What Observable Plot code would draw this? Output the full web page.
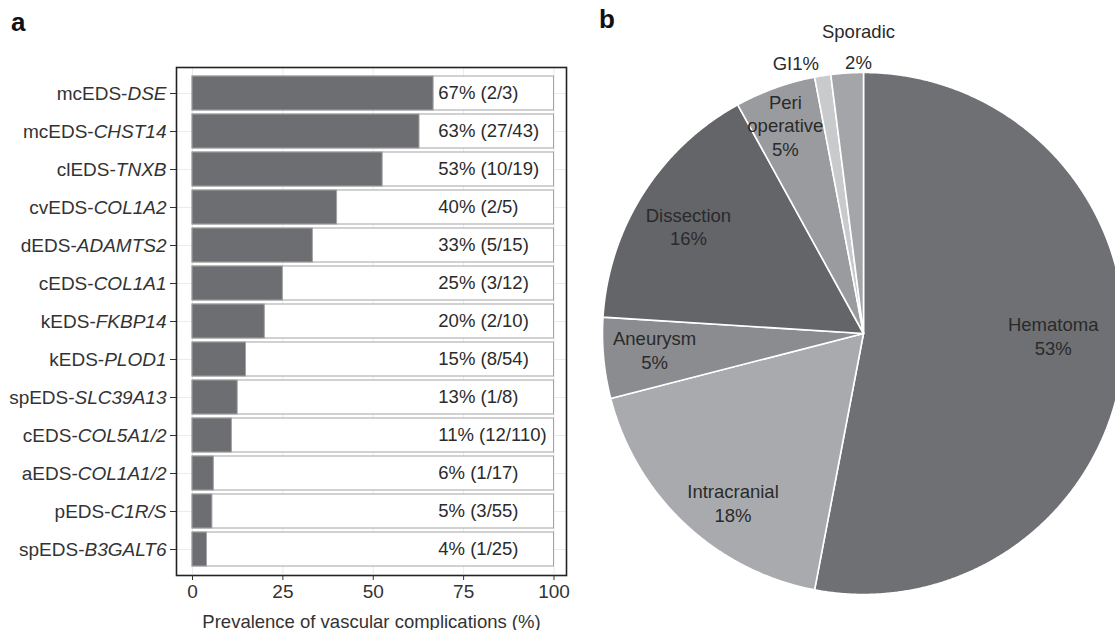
<!DOCTYPE html>
<html><head><meta charset="utf-8">
<script src="https://cdn.jsdelivr.net/npm/d3@7"></script>
<script src="https://cdn.jsdelivr.net/npm/@observablehq/plot@0.6"></script>
<style>
html,body{margin:0;padding:0;background:#fff;overflow:hidden;}
#wrap{position:relative;width:1115px;height:630px;overflow:hidden;font-family:"Liberation Sans",Arial,Helvetica,sans-serif;}
.panel{position:absolute;top:0;}
.tag{position:absolute;font-weight:bold;font-size:26px;line-height:30px;color:#111;}
</style></head><body>
<div id="wrap">
  <div id="bar" class="panel" style="left:0"></div>
  <div id="pie" class="panel" style="left:570px"></div>
  <div class="tag" style="left:11px;top:7px">a</div>
  <div class="tag" style="left:599px;top:4px">b</div>
</div>
<script>
// ---- Panel a data ----
const subtypes = ["mcEDS","mcEDS","clEDS","cvEDS","dEDS","cEDS","kEDS","kEDS","spEDS","cEDS","aEDS","pEDS","spEDS"];
const genes = ["DSE","CHST14","TNXB","COL1A2","ADAMTS2","COL1A1","FKBP14","PLOD1","SLC39A13","COL5A1/2","COL1A1/2","C1R/S","B3GALT6"];
const prevalence = [66.7,62.8,52.6,40,33.3,25,20,14.8,12.5,10.9,5.9,5.5,4];
const prevalenceLabel = [67,63,53,40,33,25,20,15,13,11,6,5,4];
const affected = [2,27,10,2,5,3,2,8,1,12,1,3,1];
const total = [3,43,19,5,15,12,10,54,8,110,17,55,25];
const xTicks = [0,25,50,75,100];
const xTitle = "Prevalence of vascular complications (%)";

// ---- Panel b data ----
const complications = ["Hematoma","Intracranial","Aneurysm","Dissection","Peri operative","GI","Sporadic"];
const share = [53,18,5,16,5,1,2];
const sliceColors = ["#6f7073","#a9aaad","#8b8c8f","#646568","#9a9b9e","#c9cacc","#a4a5a8"];

// ---------- bar chart ----------
const rows = subtypes.map((s,i)=>({
  key: s + "-" + genes[i],
  prevalence: prevalence[i],
  full: 100,
  label: `${prevalenceLabel[i]}% (${affected[i]}/${total[i]})`
}));
const font = "Liberation Sans, Arial, Helvetica, sans-serif";
const bar = Plot.plot({
  width: 570, height: 630,
  marginLeft: 176, marginRight: 4, marginTop: 67, marginBottom: 55,
  style: {fontFamily: font, fontSize: "19px", color: "#333", background: "white", overflow: "visible"},
  x: {domain: [-4.43, 103.46]},
  y: {domain: rows.map(d=>d.key), paddingInner: 0.1, paddingOuter: 0.12},
  marks: [
    Plot.gridY({stroke: "#ebebeb", strokeOpacity: 1}),
    Plot.gridX({ticks: xTicks, stroke: "#ebebeb", strokeOpacity: 1}),
    Plot.barX(rows, {y: "key", x1: 0, x2: "full", fill: "white", stroke: "#a3a3a3", strokeWidth: 1}),
    Plot.barX(rows, {y: "key", x1: 0, x2: "prevalence", fill: "#6d6e71", stroke: "#a3a3a3", strokeWidth: 1}),
    Plot.text(rows, {y: "key", x: 68, text: "label", textAnchor: "start", fill: "#2b2b2b", fontSize: 18.5}),
    Plot.frame({stroke: "#222", strokeWidth: 1.6}),
    Plot.axisY({tickSize: 6, tickPadding: 4, fontSize: 19, label: null, color: "#333"}),
    Plot.axisX({ticks: xTicks, tickSize: 5, tickPadding: 4, fontSize: 19, label: null, color: "#333"}),
    Plot.axisX({ticks: [], tickSize: 0, label: xTitle, labelAnchor: "center", labelArrow: "none", labelOffset: 52, fontSize: 18.5, color: "#333"})
  ]
});
document.getElementById("bar").append(bar);
// italicise gene names in y tick labels
const NS = "http://www.w3.org/2000/svg";
bar.querySelectorAll('g[aria-label="y-axis tick label"] text').forEach(t => {
  const s = t.textContent; const k = s.indexOf("-");
  if (k < 0) return;
  t.textContent = "";
  const a = document.createElementNS(NS, "tspan"); a.textContent = s.slice(0, k + 1);
  const b = document.createElementNS(NS, "tspan"); b.textContent = s.slice(k + 1); b.setAttribute("font-style", "italic");
  t.append(a, b);
});

// ---------- pie chart ----------
const arcs = d3.pie().sort(null).value(d => d)(share);
const pts = [];
arcs.forEach((a, i) => {
  const name = complications[i];
  pts.push({name, x: 0, y: 0});
  const n = Math.max(2, Math.ceil((a.endAngle - a.startAngle) / 0.005));
  for (let j = 0; j <= n; j++) {
    const t = a.startAngle + (a.endAngle - a.startAngle) * j / n;
    pts.push({name, x: Math.sin(t), y: Math.cos(t)});
  }
});
// label layout: radial distance (fraction of radius) along slice mid-angle, plus pixel nudges
const labelLayout = {
  "Hematoma":       {r: 0.73, dx: 0,   dy: -16},
  "Intracranial":   {r: 0.82, dx: 16,  dy: 13},
  "Aneurysm":       {r: 0.80, dx: -1,  dy: -4},
  "Dissection":     {r: 0.79, dx: -1,  dy: 3},
  "Peri operative": {r: 0.85, dx: -3,  dy: 0},
  "GI":             {r: 1.07, dx: -24, dy: 5},
  "Sporadic":       {r: 1.10, dx: 13,  dy: -3}
};
const labels = arcs.map((a, i) => {
  const name = complications[i];
  const m = (a.startAngle + a.endAngle) / 2;
  const L = labelLayout[name];
  const sep = name === "GI" ? "" : "\n";
  return {name, x: L.r * Math.sin(m), y: L.r * Math.cos(m), dx: L.dx, dy: L.dy,
          text: name.replace(" ", "\n") + sep + share[i] + "%"};
});
const cx = 293, cy = 333, R = 261;
const labelMarks = labels.map(d => Plot.text([d], {
  x: "x", y: "y", text: "text", dx: d.dx, dy: d.dy, fontSize: 18.5, fill: "#2a2a2a",
  lineHeight: d.name === "Sporadic" ? 1.68 : 1.28
}));
const pie = Plot.plot({
  width: 545, height: 630, margin: 0,
  style: {fontFamily: font, fontSize: "18px", background: "transparent", overflow: "visible"},
  x: {domain: [-1, 1], range: [cx - R, cx + R], axis: null},
  y: {domain: [-1, 1], range: [cy + R, cy - R], axis: null},
  color: {domain: complications, range: sliceColors},
  marks: [
    Plot.line(pts, {x: "x", y: "y", z: "name", fill: "name", stroke: "white", strokeWidth: 1.6, curve: "linear-closed"}),
    ...labelMarks
  ]
});
document.getElementById("pie").append(pie);
</script>
</body></html>
